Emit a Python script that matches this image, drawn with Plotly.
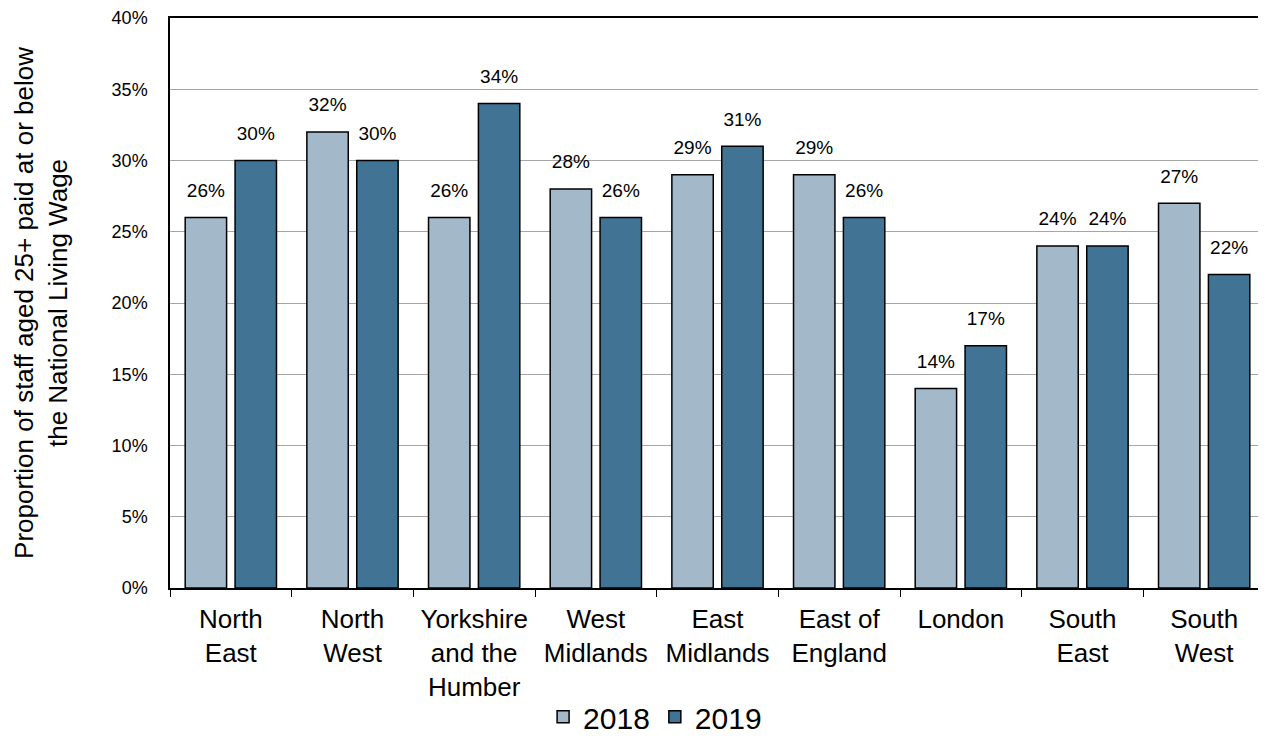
import plotly.graph_objects as go

# regions and shares of staff (%)
regions = ["North<br>East", "North<br>West", "Yorkshire<br>and the<br>Humber", "West<br>Midlands",
           "East<br>Midlands", "East of<br>England", "London", "South<br>East", "South<br>West"]
values_2018 = [26, 32, 26, 28, 29, 29, 14, 24, 27]
values_2019 = [30, 30, 34, 26, 31, 26, 17, 24, 22]

font_family = "Liberation Sans, Arial, sans-serif"

fig = go.Figure()
for name, vals, color in [("2018", values_2018, "#A3B8C8"), ("2019", values_2019, "#417394")]:
    fig.add_trace(go.Bar(
        x=regions, y=vals, name=name, offsetgroup=name,
        marker=dict(color=color, line=dict(color="black", width=1.5)),
        hoverinfo="x+y",
    ))
    # value labels sit a bit above the bar tops
    fig.add_trace(go.Scatter(
        x=regions, y=vals, offsetgroup=name, showlegend=False,
        mode="markers+text", marker=dict(size=24, opacity=0),
        text=[f"{v}%" for v in vals], textposition="top center",
        textfont=dict(size=19, color="black"),
        cliponaxis=False, hoverinfo="skip",
    ))

# the page body adds an 8px offset, so the figure is a bit smaller than the window
fig.update_layout(
    width=1258, height=726,
    paper_bgcolor="white", plot_bgcolor="white",
    font=dict(family=font_family, color="black"),
    margin=dict(l=162, r=1, t=10, b=146, autoexpand=False),
    barmode="group", bargap=0.18, bargroupgap=0.17,
    scattermode="group", scattergap=0.18,
    legend=dict(orientation="h", x=0.443, xanchor="center", y=-0.226, yanchor="middle",
                font=dict(size=30), itemwidth=30, traceorder="normal"),
    xaxis=dict(
        showline=True, linecolor="black", linewidth=1.5, mirror=True,
        ticks="outside", tickson="boundaries", ticklen=7, tickcolor="black",
        tickfont=dict(size=26), ticklabelstandoff=7, automargin=False,
    ),
    yaxis=dict(
        range=[0, 40], dtick=5, ticksuffix="%",
        showline=True, linecolor="black", linewidth=1.5, mirror=True,
        showgrid=True, gridcolor="#A6A6A6", gridwidth=1,
        ticks="", tickfont=dict(size=18), ticklabelstandoff=17, automargin=False,
        title=dict(text="Proportion of staff aged 25+ paid at or below<br>the National Living Wage",
                   font=dict(size=26), standoff=37),
        zeroline=False,
    ),
)

fig.write_html("out.html")
